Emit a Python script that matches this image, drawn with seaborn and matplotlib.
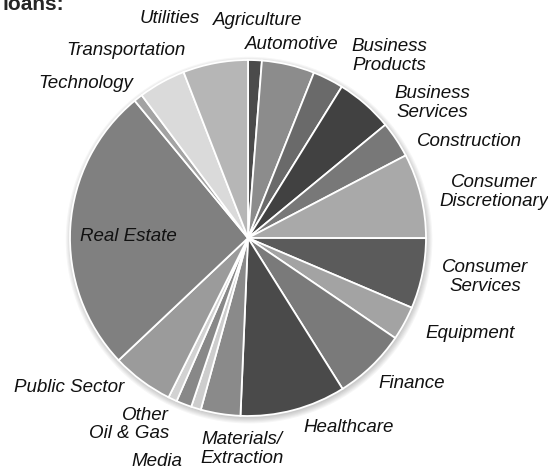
import matplotlib
matplotlib.use("Agg")
import matplotlib.pyplot as plt
import seaborn as sns
from matplotlib.patches import Circle

sns.set_theme(style="white")
plt.rcParams["font.family"] = ["Liberation Sans", "DejaVu Sans"]

# share of loans by sector, in percent
sectors = ["Agriculture", "Automotive", "Business\nProducts", "Business\nServices",
           "Construction", "Consumer\nDiscretionary", "Consumer\nServices", "Equipment",
           "Finance", "Healthcare", "Materials/\nExtraction", "Media", "Oil & Gas",
           "Other", "Public Sector", "Real Estate", "Technology", "Transportation",
           "Utilities"]
shares = [1.25, 4.8, 2.8, 5.2, 3.3, 7.7, 6.4, 3.1, 6.6, 9.6, 3.6, 0.9, 1.4,
          0.8, 5.6, 26.1, 0.8, 4.3, 5.9]
greys = ["#4b4b4b", "#8c8c8c", "#6a6a6a", "#414141", "#787878", "#a9a9a9",
         "#5b5b5b", "#a3a3a3", "#7a7a7a", "#4a4a4a", "#8a8a8a", "#cdcdcd",
         "#888888", "#d2d2d2", "#9b9b9b", "#808080", "#a3a3a3", "#dadada",
         "#b6b6b6"]

# label centres in pixels of the 548x468 picture
label_px = [(258, 21), (292, 45), (389, 56), (432, 103), (469, 142), (494, 192),
            (485, 277), (470, 333), (412, 384), (349, 427), (242, 449), (157, 461),
            (129, 433), (145, 415), (69, 388), (128, 237), (86, 84), (126, 51),
            (170, 19)]

W, H = 548, 468
cx, cy, r = 248, 238, 178

fig = plt.figure(figsize=(W / 100, H / 100), dpi=100)
ax = fig.add_axes([0, 0, 1, 1])

# soft shadow under the pie
for k in range(6):
    ax.add_patch(Circle((0.006, -0.012), 1.0 + 0.006 * k, color="#000000",
                        alpha=0.035, lw=0, zorder=0))

wedges, texts = ax.pie(shares, labels=sectors, colors=greys, startangle=90,
                       counterclock=False,
                       wedgeprops=dict(edgecolor="white", linewidth=1.3),
                       textprops=dict(fontsize=13.5, style="italic", color="#111111"))
for w in wedges:
    w.set_zorder(2)

for t, (px, py) in zip(texts, label_px):
    t.set_position(((px - cx) / r, (cy - py) / r))
    t.set_ha("center")
    t.set_va("center")
    t.set_multialignment("center")
    t.set_linespacing(1.15)
    t.set_zorder(3)

ax.set_xlim(-cx / r, (W - cx) / r)
ax.set_ylim(-(H - cy) / r, cy / r)
ax.set_aspect("auto")
ax.axis("off")

fig.text(0.004, 1 - 10 / H, "loans:", fontsize=15, fontweight="bold",
         ha="left", va="baseline")

fig.savefig("out.png", dpi=100)
